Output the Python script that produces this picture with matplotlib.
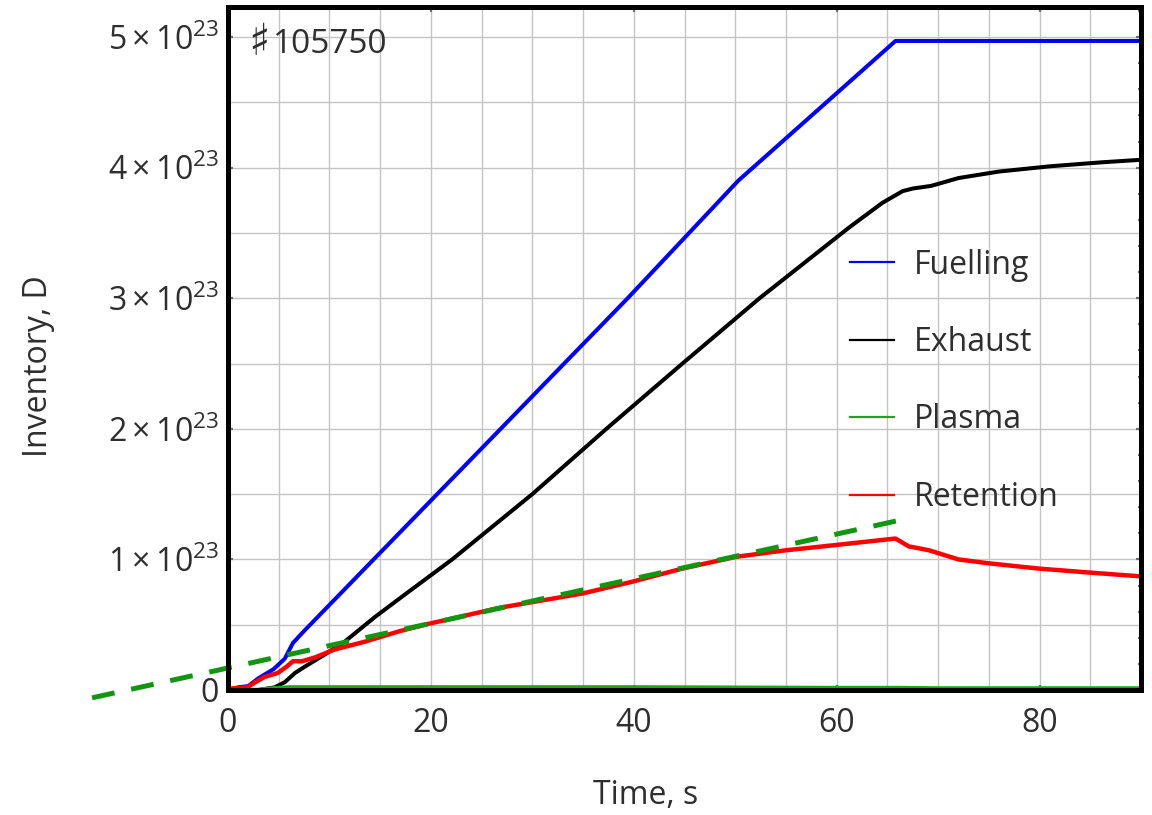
import numpy as np
import matplotlib
matplotlib.use("Agg")
import matplotlib.pyplot as plt
from matplotlib.lines import Line2D
from matplotlib.ticker import MultipleLocator, FixedLocator, FuncFormatter

plt.rcParams["font.family"] = ["Open Sans", "DejaVu Sans"]
plt.rcParams["mathtext.fontset"] = "custom"
plt.rcParams["mathtext.rm"] = "Open Sans"
plt.rcParams["mathtext.it"] = "Open Sans:italic"
plt.rcParams["mathtext.bf"] = "Open Sans:bold"

# Deuterium inventories, in units of 1e23 particles
fuel_t = [0, 1, 2, 3, 4.5, 5.6, 6.4, 7.6, 39.4, 50.3, 65.8, 90]
fuel_v = [0, 0.02, 0.03, 0.09, 0.16, 0.24, 0.36, 0.46, 3.0, 3.9, 4.97, 4.97]

exh_t = [0, 3, 4.6, 5.6, 6.6, 7.6, 9.5, 11.5, 14.5, 16.9, 22.1, 30, 37.3, 44.8,
         52.4, 61.2, 64.5, 66.5, 67.5, 69.3, 72, 76, 81, 86, 90]
exh_v = [0, 0, 0.02, 0.06, 0.13, 0.18, 0.27, 0.37, 0.56, 0.70, 1.0, 1.5, 2.0, 2.5,
         3.0, 3.54, 3.73, 3.82, 3.84, 3.86, 3.92, 3.97, 4.01, 4.04, 4.06]

plasma_t = [0, 3, 4, 6, 10, 20, 40, 60, 66, 70, 90]
plasma_v = [0, 0, 0.01, 0.02, 0.02, 0.02, 0.02, 0.015, 0.015, 0.012, 0.012]

ret_t = [0, 1.9, 2.7, 3.6, 4.9, 5.8, 6.4, 7.3, 8.6, 10.5, 13.5, 16.9, 19.4, 26.8,
         35, 39.9, 44.8, 50.1, 55, 59.9, 65.8, 67.1, 69.1, 72, 75, 79.9, 84.8, 90]
ret_v = [0.01, 0.02, 0.06, 0.10, 0.13, 0.18, 0.22, 0.22, 0.25, 0.31, 0.37, 0.45, 0.50, 0.63,
         0.74, 0.83, 0.93, 1.02, 1.07, 1.11, 1.16, 1.10, 1.07, 1.00, 0.97, 0.93, 0.90, 0.87]

# Linear fit of the retention growth, extended past the axis
trend_t = [-13.4, 66.8]
trend_v = [-0.06, 1.31]

series_names = ["Fuelling", "Exhaust", "Plasma", "Retention"]
series_colors = ["#0000ff", "#000000", "#1aa81a", "#ff0000"]

x_ticks = [0, 20, 40, 60, 80]
y_ticks = [0, 1, 2, 3, 4, 5]
shot_sign = "\u266f"
shot_number = "105750"

TEXT = "#2e2e2e"

fig = plt.figure(figsize=(11.52, 8.15), dpi=100)
ax = fig.add_axes([228 / 1152, 1 - 690 / 815, 913 / 1152, 683 / 815])

# grid: every 5 s and every 0.5e23
for gx in np.arange(5, 90, 5):
    ax.axvline(gx, color="#c4c4c4", lw=1.0, zorder=0)
for gy in np.arange(0.5, 5.25, 0.5):
    ax.axhline(gy, color="#c4c4c4", lw=1.0, zorder=0)

ax.plot(fuel_t, fuel_v, color=series_colors[0], lw=2.9, zorder=3)
ax.plot(exh_t, exh_v, color=series_colors[1], lw=2.9, zorder=3)
ax.plot(plasma_t, plasma_v, color=series_colors[2], lw=3.2, zorder=3)
ax.plot(ret_t, ret_v, color=series_colors[3], lw=3.2, zorder=4)
ax.plot(trend_t, trend_v, color="#129612", lw=3.6, dashes=(4.6, 3.4),
        clip_on=False, zorder=5)

ax.set_xlim(0, 90)
ax.set_ylim(0, 5.23)

ax.xaxis.set_major_locator(FixedLocator(x_ticks))
ax.xaxis.set_minor_locator(MultipleLocator(5))
ax.yaxis.set_major_locator(FixedLocator(y_ticks))
ax.yaxis.set_minor_locator(MultipleLocator(0.2))


def fmt_y(v, pos):
    if v == 0:
        return "0"
    return r"$%d\times10^{23}$" % int(round(v))


ax.yaxis.set_major_formatter(FuncFormatter(fmt_y))
ax.xaxis.set_major_formatter(FuncFormatter(lambda v, p: "%d" % v))

ax.tick_params(which="both", direction="in", top=True, right=True,
               color="#707070", width=1.6, labelcolor=TEXT, labelsize=23)
ax.tick_params(which="major", length=3.5)
ax.tick_params(which="minor", length=2.5)
ax.tick_params(axis="y", which="major", pad=6.5)
ax.tick_params(axis="x", which="major", pad=12)

for s in ax.spines.values():
    s.set_linewidth(3.6)
    s.set_color("black")
    s.set_zorder(6)

ax.set_xlabel("Time, s", fontsize=23, color=TEXT)
ax.set_ylabel("Inventory, D", fontsize=23, color=TEXT)
ax.xaxis.set_label_coords(0.457, -0.130)
ax.yaxis.set_label_coords(-0.189, 0.474)

# shot number: sharp sign followed by the digits
ax.text(0.022, 0.929, shot_sign, transform=ax.transAxes, fontsize=32,
        family="DejaVu Sans", color=TEXT, ha="left", va="baseline")
ax.text(0.0495, 0.9325, shot_number, transform=ax.transAxes, fontsize=24,
        color=TEXT, ha="left", va="baseline")

handles = [Line2D([], [], color=c, lw=1.6) for c in series_colors]
ax.legend(handles, series_names, loc="center left",
          bbox_to_anchor=(0.681, 0.452), frameon=False, fontsize=23,
          handlelength=1.4, handletextpad=0.62, labelspacing=1.39,
          borderpad=0, borderaxespad=0, labelcolor=TEXT)

fig.savefig("out.png", dpi=100, facecolor="white")
